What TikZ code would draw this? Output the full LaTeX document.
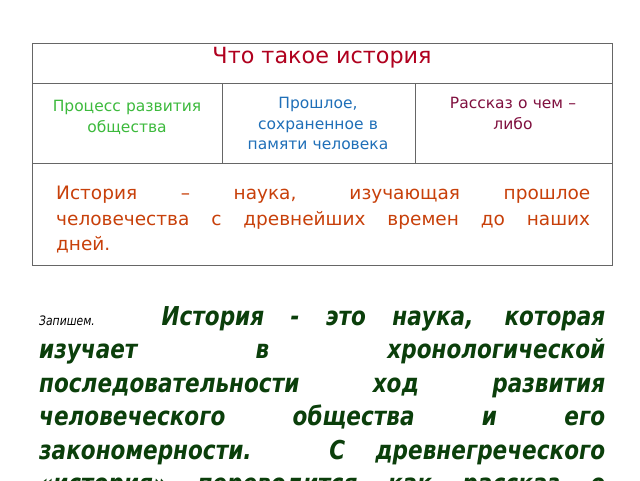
\documentclass[tikz,border=0pt]{standalone}
\usepackage{fontspec}
\setmainfont{DejaVu Sans}
\newfontfamily\condb[FakeStretch=0.83]{DejaVu Sans}
\definecolor{ttl}{HTML}{B0001E}
\definecolor{cA}{HTML}{3DBA3D}
\definecolor{cB}{HTML}{1F6FB8}
\definecolor{cC}{HTML}{80103F}
\definecolor{cD}{HTML}{C8400A}
\definecolor{cE}{HTML}{0B3F0B}
\tikzset{cell/.style={align=center,inner sep=0pt,font=\fontsize{15.5}{20.5}\selectfont}}
\begin{document}
\begin{tikzpicture}[x=1pt,y=-1pt]
\useasboundingbox (0,0) rectangle (640,480);
\clip (0,0) rectangle (640,480);
\fill[white] (0,0) rectangle (640,480);
\draw[gray!80!black,line width=0.8pt] (32,43) rectangle (612,265);
\draw[gray!80!black,line width=0.8pt] (32,83) -- (612,83) (32,163) -- (612,163)
  (222,83) -- (222,163) (415,83) -- (415,163);
\node[font=\fontsize{22.3}{26}\selectfont,text=ttl,anchor=north] (t) at (322,44) {Что такое история};
\node[cell,text=cA,anchor=north,text width=188] (a) at (127,100) {Процесс развития\\общества};
\node[cell,text=cB,anchor=north,text width=188] (b) at (318,97) {Прошлое,\\сохраненное в\\памяти человека};
\node[cell,text=cC,anchor=north,text width=188] (c) at (513,97) {Рассказ о чем –\\либо};
\node[text=cD,anchor=north west,inner sep=0pt,text width=534,align=justify,
  font=\fontsize{18.5}{25.5}\selectfont] (d) at (56,186) {История – наука, изучающая прошлое\linebreak человечества с древнейших времен до наших\linebreak дней.};
\node[text=cE,anchor=north west,inner sep=0pt,text width=566,align=justify,
  font=\fontsize{26}{33.5}\condb\bfseries\itshape] (e) at (39,306)
  {{\fontsize{13}{33}\selectfont\mdseries\color{black}Запишем.} История - это наука, которая\linebreak изучает в хронологической\linebreak последовательности ход развития\linebreak человеческого общества и его\linebreak закономерности. С древнегреческого\linebreak «история» переводится как рассказ о\linebreak прошлом.};
\end{tikzpicture}
\end{document}
